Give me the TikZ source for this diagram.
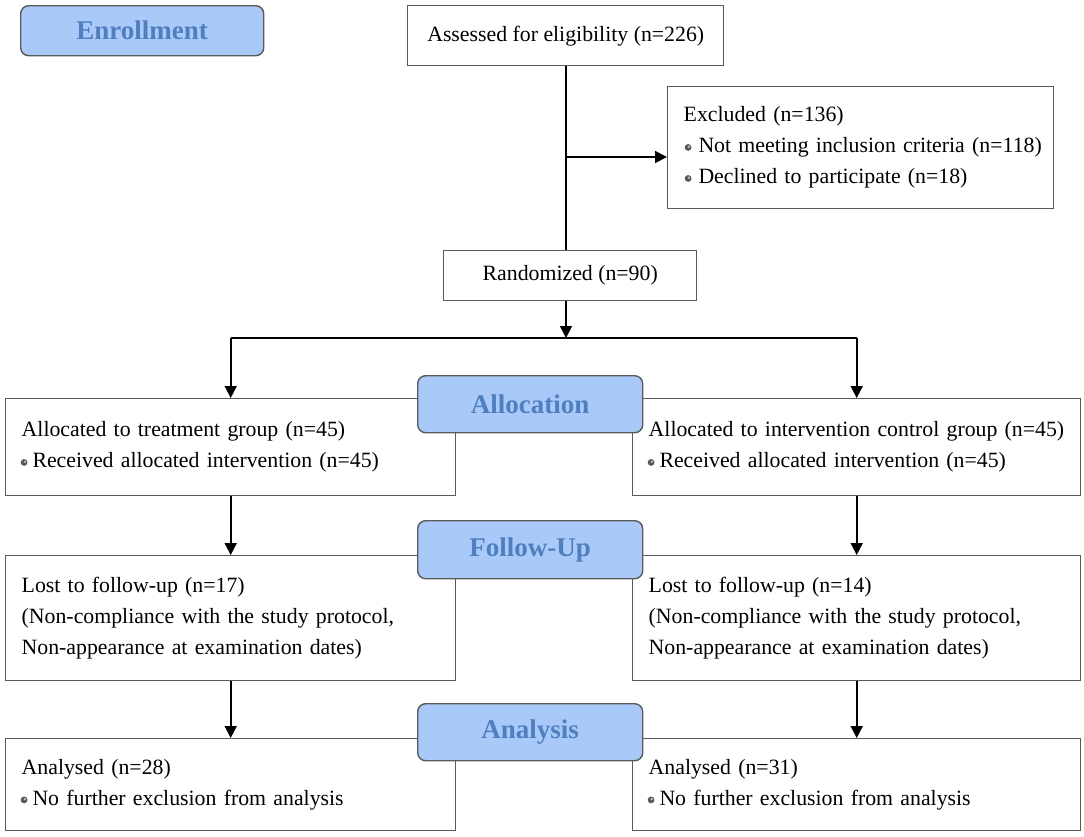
\documentclass[tikz,border=0pt]{standalone}
\usepackage{fontspec}
\setmainfont{Liberation Serif}
\usetikzlibrary{arrows.meta,calc}
\definecolor{lblfill}{HTML}{A9C9F9}
\definecolor{lbltext}{HTML}{4F7FBE}
\definecolor{boxline}{HTML}{5A5A5A}
\newcommand{\bul}{\tikz[baseline=-5.5pt]{\fill[black!65] (0pt,0pt) circle (3.4pt); \fill[black!25] (0.8pt,0.8pt) circle (1.3pt);}}
\tikzset{
  box/.style={draw=boxline, line width=1.4pt, align=left, inner xsep=16pt, inner ysep=0pt,
    anchor=north west, font=\fontsize{21.8}{31}\selectfont},
  lbl/.style={draw=boxline, fill=lblfill, rounded corners=8pt, line width=1.4pt, text=lbltext,
    anchor=north west, inner sep=0pt, font=\fontsize{27}{30}\selectfont\bfseries},
  conn/.style={draw=black, line width=1.7pt},
  arr/.style={conn, -{Triangle[width=12pt,length=12pt]}}
}
\begin{document}
\begin{tikzpicture}[x=1pt,y=-1pt]
\useasboundingbox (0,0) rectangle (1084,836);
% main boxes
\node[box, align=center, minimum width=316pt, minimum height=60pt] (assess) at (407,5) {Assessed for eligibility (n=226)};
\node[box, text width=354pt, minimum height=122pt] (excl) at (667,86)
  {Excluded (n=136)\\\mbox{\hspace*{1pt}\bul\hspace{7pt}Not meeting inclusion criteria (n=118)}\\\mbox{\hspace*{1pt}\bul\hspace{7pt}Declined to participate (n=18)}};
\node[box, align=center, minimum width=253pt, minimum height=50pt] (rand) at (443,250) {Randomized (n=90)};
\node[box, text width=418pt, minimum height=97pt] (lalloc) at (5,398)
  {Allocated to treatment group (n=45)\\\hspace*{-1pt}\bul\hspace{5pt}Received allocated intervention (n=45)};
\node[box, text width=416pt, minimum height=97pt] (ralloc) at (632,398)
  {Allocated to intervention control group (n=45)\\\hspace*{-1pt}\bul\hspace{5pt}Received allocated intervention (n=45)};
\node[box, text width=418pt, minimum height=125pt] (lfol) at (5,555)
  {Lost to follow-up (n=17)\\(Non-compliance with the study protocol,\\Non-appearance at examination dates)};
\node[box, text width=416pt, minimum height=125pt] (rfol) at (632,555)
  {Lost to follow-up (n=14)\\(Non-compliance with the study protocol,\\Non-appearance at examination dates)};
\node[box, text width=418pt, minimum height=92pt] (lana) at (5,738)
  {Analysed (n=28)\\\hspace*{-1pt}\bul\hspace{5pt}No further exclusion from analysis};
\node[box, text width=416pt, minimum height=92pt] (rana) at (632,738)
  {Analysed (n=31)\\\hspace*{-1pt}\bul\hspace{5pt}No further exclusion from analysis};
% connectors
\coordinate (ex) at (566,157);
\coordinate (sp) at (566,338);
\draw[conn] (ex |- assess.south) -- (ex |- rand.north);
\draw[arr] (ex) -- (ex -| excl.west);
\draw[arr] (sp |- rand.south) -- (sp);
\coordinate (spl) at (lalloc.north |- sp);
\coordinate (spr) at (ralloc.north |- sp);
\draw[conn] (spl) -- (spr);
\draw[arr] (spl) -- (lalloc.north);
\draw[arr] (spr) -- (ralloc.north);
\draw[arr] (lalloc.south) -- (lfol.north);
\draw[arr] (ralloc.south) -- (rfol.north);
\draw[arr] (lfol.south) -- (lana.north);
\draw[arr] (rfol.south) -- (rana.north);
% stage labels
\node[lbl, minimum width=243pt, minimum height=50pt] (enr) at (20,5) {Enrollment};
\node[lbl, minimum width=225pt, minimum height=57pt] (alloc) at (417,375) {Allocation};
\node[lbl, minimum width=225pt, minimum height=58pt] (fol) at (417,520) {Follow-Up};
\node[lbl, minimum width=225pt, minimum height=57pt] (ana) at (417,703) {Analysis};
\end{tikzpicture}
\end{document}
